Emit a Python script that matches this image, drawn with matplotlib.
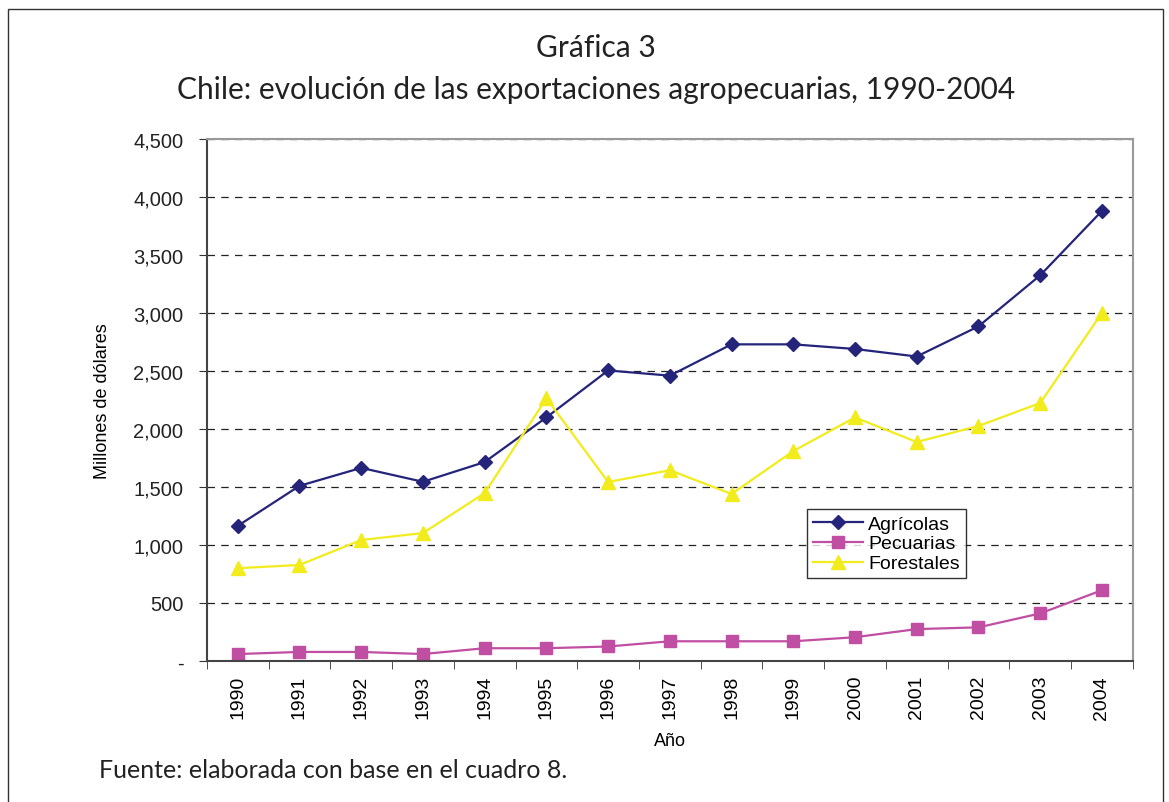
import matplotlib.pyplot as plt
from matplotlib.patches import Rectangle
from matplotlib.ticker import FuncFormatter

years = ['1990', '1991', '1992', '1993', '1994', '1995', '1996', '1997',
         '1998', '1999', '2000', '2001', '2002', '2003', '2004']
agricolas = [1165, 1510, 1665, 1545, 1715, 2100, 2505, 2460,
             2730, 2730, 2690, 2625, 2885, 3325, 3880]
pecuarias = [60, 78, 78, 60, 110, 110, 125, 170,
             170, 170, 205, 275, 290, 410, 610]
forestales = [800, 828, 1043, 1103, 1448, 2265, 1543, 1645,
              1440, 1810, 2100, 1888, 2026, 2224, 3000]

plt.rcParams['font.family'] = ['Liberation Sans', 'DejaVu Sans']

fig = plt.figure(figsize=(11.69, 8.03), dpi=100)
ax = fig.add_axes([0.177, 0.1756, 0.792, 0.65])

x = list(range(len(years)))
ax.plot(x, agricolas, color='#23247a', marker='D', markersize=7, lw=1.6, label='Agrícolas')
ax.plot(x, pecuarias, color='#c04ea2', marker='s', markersize=8, lw=1.6, label='Pecuarias')
ax.plot(x, forestales, color='#f2ec1c', marker='^', markersize=10, lw=1.6, label='Forestales')

ax.set_xlim(-0.5, len(years) - 0.5)
ax.set_ylim(0, 4500)
ax.set_yticks(range(0, 4501, 500))
ax.yaxis.set_major_formatter(FuncFormatter(lambda v, p: '-' if v == 0 else f'{int(v):,}'))
ax.set_xticks(x)
ax.set_xticklabels(years, rotation=90, fontsize=14)
ax.set_xticks([i - 0.5 for i in range(len(years) + 1)], minor=True)
ax.tick_params(axis='x', which='major', length=0, pad=10)
ax.tick_params(axis='x', which='minor', length=6, direction='out', color='#333333')
ax.tick_params(axis='y', labelsize=14.5, length=6, direction='out', color='#333333', pad=11)
for lbl in ax.get_yticklabels():
    lbl.set_color('#222222')

ax.grid(axis='y', color='#222222', linestyle=(0, (6, 5)), lw=0.9)
ax.set_axisbelow(True)
for s in ['left', 'bottom']:
    ax.spines[s].set_color('#444444')
    ax.spines[s].set_linewidth(1.5)
for s in ['top', 'right']:
    ax.spines[s].set_color('#999999')
    ax.spines[s].set_linewidth(1.5)

ax.set_ylabel('Millones de dólares', fontsize=13, labelpad=16)
ax.set_xlabel('Año', fontsize=13, labelpad=10)

leg = ax.legend(loc='upper left', bbox_to_anchor=(0.648, 0.291), fontsize=14,
                frameon=True, fancybox=False, edgecolor='black', borderpad=0.3,
                handlelength=2.6, handletextpad=0.25, labelspacing=0.12,
                borderaxespad=0)
leg.get_frame().set_linewidth(1.0)

title_font = ['Lato', 'DejaVu Sans']
fig.text(0.51, 0.94, 'Gráfica 3', ha='center', va='center', fontsize=21.5,
         family=title_font, color='#222222')
fig.text(0.51, 0.888, 'Chile: evolución de las exportaciones agropecuarias, 1990-2004',
         ha='center', va='center', fontsize=21.5, family=title_font, color='#222222')
fig.text(0.085, 0.041, 'Fuente: elaborada con base en el cuadro 8.', ha='left', va='center',
         fontsize=18, family=title_font, color='#222222')

fig.patches.append(Rectangle((0.007, -0.01), 0.988, 0.998, transform=fig.transFigure,
                             fill=False, edgecolor='#333333', lw=1.0))

fig.savefig('out.png', dpi=100)
